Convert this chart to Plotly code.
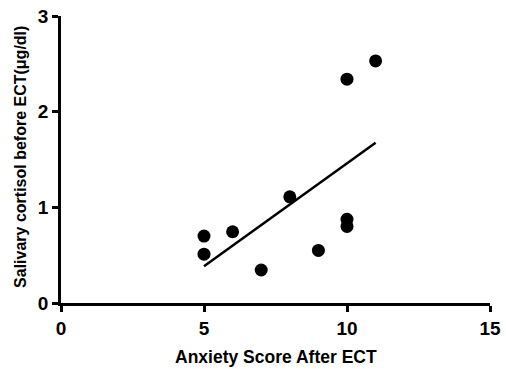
import numpy as np
import plotly.graph_objects as go

anxiety_score = [5, 5, 6, 7, 8, 9, 10, 10, 10, 11]
salivary_cortisol = [0.70, 0.51, 0.745, 0.345, 1.11, 0.55, 2.34, 0.875, 0.80, 2.53]
x_ticks = [0, 5, 10, 15]
y_ticks = [0, 1, 2, 3]
x_title = "Anxiety Score After ECT"
y_title = "Salivary cortisol before ECT(μg/dl)"

slope, intercept = np.polyfit(anxiety_score, salivary_cortisol, 1)
fit_x = [min(anxiety_score), max(anxiety_score)]
fit_y = [slope * v + intercept for v in fit_x]

fig = go.Figure()
fig.add_trace(go.Scatter(x=anxiety_score, y=salivary_cortisol, mode="markers",
                         marker=dict(color="black", size=13), showlegend=False))
fig.add_trace(go.Scatter(x=fit_x, y=fit_y, mode="lines",
                         line=dict(color="black", width=2.5), showlegend=False))

bold_font = "Liberation Sans, Arial"
axis_common = dict(showgrid=False, zeroline=False, automargin=False,
                   showline=True, linecolor="black", linewidth=2.5,
                   ticks="outside", ticklen=6, tickwidth=2.5, tickcolor="black",
                   ticklabeloverflow="allow",
                   tickfont=dict(size=19, family=bold_font, color="black", weight="bold"))

fig.update_layout(
    width=506, height=369,
    margin=dict(l=61, r=16, t=16, b=66),
    plot_bgcolor="white", paper_bgcolor="white",
    font=dict(family=bold_font, color="black"),
    hovermode=False,
    xaxis=dict(range=[0, 15], tickvals=x_ticks,
               ticktext=["<b>%d</b>" % v for v in x_ticks], **axis_common),
    yaxis=dict(range=[0, 3], tickvals=y_ticks,
               ticktext=["<b>%d</b>" % v for v in y_ticks], **axis_common),
    annotations=[
        dict(text="<b>" + x_title + "</b>", xref="paper", yref="paper", x=0.5, y=0,
             xanchor="center", yanchor="middle", yshift=-54, showarrow=False,
             font=dict(size=17.5, family=bold_font, color="black")),
        dict(text="<b>" + y_title + "</b>", xref="paper", yref="paper", x=0, y=0.509,
             xanchor="center", yanchor="middle", xshift=-40, textangle=-90, showarrow=False,
             font=dict(size=16, family=bold_font, color="black")),
    ],
)
fig.write_html("out.html", config={"displayModeBar": False},
               post_script="document.body.style.margin='0';")
